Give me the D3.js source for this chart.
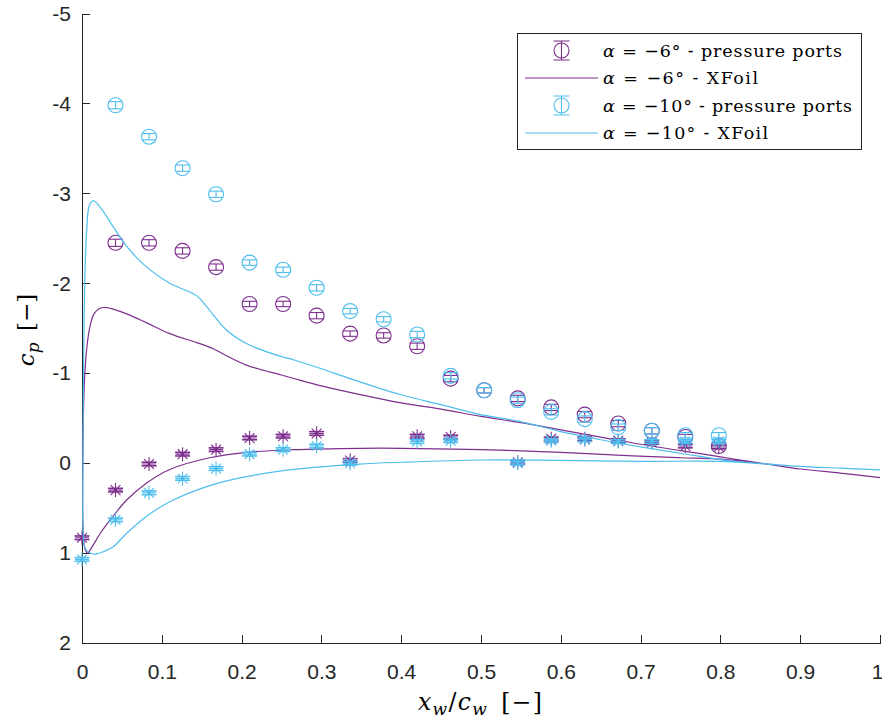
<!DOCTYPE html>
<html lang="en">
<head>
<meta charset="UTF-8">
<title>cp distribution</title>
<script src="https://cdn.jsdelivr.net/npm/d3@7"></script>
<style>
    body { margin: 0; background: #fff; }
    .axis path, .axis line { fill: none; stroke: #262626; stroke-width: 1; shape-rendering: crispEdges; }
    .axis text { font-family: "Liberation Sans", Arial, sans-serif; font-size: 21px; fill: #262626; }
    .tex { font-family: "DejaVu Serif", "Liberation Serif", serif; fill: #000; }
</style>
</head>
<body>
<script>
    // tick values
    var xTicks = [0, 0.1, 0.2, 0.3, 0.4, 0.5, 0.6, 0.7, 0.8, 0.9, 1]
    var yTicks = [-5, -4, -3, -2, -1, 0, 1, 2]

    // pressure port positions (suction side / pressure side)
    var xSuction = [0.042, 0.084, 0.126, 0.168, 0.21, 0.252, 0.294, 0.336, 0.378, 0.42, 0.462, 0.504, 0.546, 0.588, 0.63, 0.672, 0.714, 0.756, 0.798]
    var xPressure = [0, 0.042, 0.084, 0.126, 0.168, 0.21, 0.252, 0.294, 0.336, 0.42, 0.462, 0.546, 0.588, 0.63, 0.672, 0.714, 0.756, 0.798]

    // alpha = -6 deg, measured
    var cp6Suction = [-2.45, -2.45, -2.36, -2.18, -1.77, -1.77, -1.64, -1.44, -1.42, -1.30, -0.94, -0.81, -0.72, -0.62, -0.54, -0.44, -0.36, -0.29, -0.19]
    var err6Suction = [0.04, 0.035, 0.035, 0.035, 0.03, 0.03, 0.035, 0.03, 0.03, 0.035, 0.035, 0.03, 0.035, 0.035, 0.035, 0.035, 0.035, 0.03, 0.03]
    var cp6Pressure = [0.83, 0.30, 0.01, -0.10, -0.15, -0.28, -0.30, -0.33, -0.03, -0.30, -0.29, -0.01, -0.27, -0.27, -0.25, -0.23, -0.19, -0.18]
    var err6Pressure = [0.02, 0.02, 0.02, 0.02, 0.02, 0.02, 0.02, 0.02, 0.02, 0.02, 0.02, 0.02, 0.02, 0.02, 0.02, 0.02, 0.02, 0.02]

    // alpha = -10 deg, measured
    var cp10Suction = [-3.98, -3.63, -3.28, -2.99, -2.23, -2.15, -1.95, -1.69, -1.60, -1.43, -0.97, -0.81, -0.70, -0.57, -0.49, -0.40, -0.36, -0.31, -0.31]
    var err10Suction = [0.04, 0.035, 0.035, 0.035, 0.03, 0.03, 0.035, 0.03, 0.03, 0.035, 0.035, 0.03, 0.035, 0.035, 0.035, 0.035, 0.035, 0.03, 0.03]
    var cp10Pressure = [1.07, 0.63, 0.33, 0.17, 0.06, -0.10, -0.15, -0.19, 0.00, -0.24, -0.25, 0.00, -0.25, -0.26, -0.24, -0.24, -0.24, -0.24]
    var err10Pressure = [0.02, 0.02, 0.02, 0.02, 0.02, 0.02, 0.02, 0.02, 0.02, 0.02, 0.02, 0.02, 0.02, 0.02, 0.02, 0.02, 0.02, 0.02]

    // XFoil curves [x, cp], trailing edge -> leading edge -> trailing edge
    var xfoil6 = [[1.0, 0.16], [0.95, 0.11], [0.9, 0.065], [0.85, 0.0], [0.8, -0.07], [0.75, -0.14], [0.7, -0.21],
        [0.65, -0.29], [0.6, -0.37], [0.55, -0.45], [0.5, -0.52], [0.45, -0.6], [0.4, -0.67], [0.35, -0.76],
        [0.3, -0.86], [0.27, -0.93], [0.25, -0.98], [0.206, -1.09], [0.18, -1.2], [0.165, -1.27], [0.144, -1.34],
        [0.11, -1.44], [0.081, -1.56], [0.056, -1.66], [0.04, -1.71], [0.031, -1.73], [0.022, -1.72], [0.015, -1.66],
        [0.01, -1.52], [0.006, -1.28], [0.003, -0.9], [0.0015, -0.4], [0.0008, 0.2], [0.001, 0.6], [0.002, 0.85],
        [0.004, 0.96], [0.007, 1.0], [0.012, 0.94], [0.023, 0.78], [0.039, 0.59], [0.056, 0.41], [0.081, 0.22],
        [0.11, 0.07], [0.16, -0.06], [0.206, -0.12], [0.265, -0.15], [0.35, -0.165], [0.4, -0.165], [0.5, -0.15],
        [0.6, -0.12], [0.69, -0.08], [0.75, -0.06], [0.8, -0.045], [0.85, 0.0], [0.9, 0.065], [0.95, 0.11], [1.0, 0.16]]

    var xfoil10 = [[1.0, 0.075], [0.95, 0.055], [0.9, 0.035], [0.85, 0.005], [0.8, -0.04], [0.75, -0.11], [0.7, -0.18],
        [0.65, -0.26], [0.6, -0.35], [0.574, -0.41], [0.545, -0.47], [0.5, -0.54], [0.45, -0.65], [0.4, -0.76],
        [0.336, -0.94], [0.3, -1.05], [0.265, -1.15], [0.248, -1.19], [0.206, -1.33], [0.181, -1.48], [0.158, -1.72],
        [0.144, -1.86], [0.11, -2.0], [0.081, -2.18], [0.056, -2.41], [0.039, -2.63], [0.025, -2.82], [0.014, -2.92],
        [0.009, -2.86], [0.006, -2.6], [0.004, -2.2], [0.0025, -1.5], [0.0015, -0.5], [0.001, 0.3], [0.0015, 0.8],
        [0.004, 0.95], [0.01, 1.0], [0.018, 1.01], [0.028, 0.98], [0.039, 0.93], [0.056, 0.78], [0.081, 0.59],
        [0.11, 0.43], [0.16, 0.25], [0.206, 0.15], [0.265, 0.07], [0.348, 0.01], [0.4, -0.01], [0.5, -0.035],
        [0.6, -0.03], [0.7, -0.02], [0.8, -0.02], [0.85, 0.005], [0.9, 0.035], [0.95, 0.055], [1.0, 0.075]]

    var purple = "#7E2F8E"
    var cyan = "#4DBEEE"

    var width = 882, height = 722

    var svg = d3.select("body").append("svg")
        .attr("width", width)
        .attr("height", height)

    var x = d3.scaleLinear().domain([0, 1]).range([82, 880])
    var y = d3.scaleLinear().domain([-5, 2]).range([13.5, 643])

    // axes (ticks point inward, no box)
    var xAxisG = svg.append("g")
        .attr("class", "axis")
        .attr("transform", "translate(0,643)")
        .call(d3.axisBottom(x).tickValues(xTicks).tickFormat(function(d) { return String(d) })
            .tickSizeInner(-8).tickSizeOuter(0).tickPadding(21))
    // last label sits on the window edge
    xAxisG.selectAll(".tick text").filter(function(d) { return d === 1 }).attr("dx", -3)

    svg.append("g")
        .attr("class", "axis")
        .attr("transform", "translate(82,0)")
        .call(d3.axisLeft(y).tickValues(yTicks).tickFormat(function(d) { return String(d) })
            .tickSizeInner(-8).tickSizeOuter(0).tickPadding(11))

    var line = d3.line()
        .x(function(d) { return x(d[0]) })
        .y(function(d) { return y(d[1]) })
        .curve(d3.curveCatmullRom.alpha(0.5))

    function zip(xs, ys, es) {
        return xs.map(function(v, i) { return { x: v, cp: ys[i], e: es[i] } })
    }

    function errorBars(g, data, color, cap, sw) {
        var eb = g.selectAll(null).data(data).enter().append("g")
            .attr("stroke", color).attr("stroke-width", sw).attr("fill", "none")
        eb.append("line")
            .attr("x1", function(d) { return x(d.x) }).attr("x2", function(d) { return x(d.x) })
            .attr("y1", function(d) { return y(d.cp - d.e) }).attr("y2", function(d) { return y(d.cp + d.e) })
        eb.append("line")
            .attr("x1", function(d) { return x(d.x) - cap }).attr("x2", function(d) { return x(d.x) + cap })
            .attr("y1", function(d) { return y(d.cp - d.e) }).attr("y2", function(d) { return y(d.cp - d.e) })
        eb.append("line")
            .attr("x1", function(d) { return x(d.x) - cap }).attr("x2", function(d) { return x(d.x) + cap })
            .attr("y1", function(d) { return y(d.cp + d.e) }).attr("y2", function(d) { return y(d.cp + d.e) })
    }

    function circles(g, data, color) {
        g.selectAll(null).data(data).enter().append("circle")
            .attr("cx", function(d) { return x(d.x) })
            .attr("cy", function(d) { return y(d.cp) })
            .attr("r", 7.5)
            .attr("fill", "none").attr("stroke", color).attr("stroke-width", 1.1)
    }

    function asterisks(g, data, color) {
        var a = 7, b = 4.9
        g.selectAll(null).data(data).enter().append("path")
            .attr("transform", function(d) { return "translate(" + x(d.x) + "," + y(d.cp) + ")" })
            .attr("d", "M" + -a + ",0H" + a + "M0," + -a + "V" + a +
                "M" + -b + "," + -b + "L" + b + "," + b + "M" + -b + "," + b + "L" + b + "," + -b)
            .attr("fill", "none").attr("stroke", color).attr("stroke-width", 1.1)
    }

    function series(cpS, errS, cpP, errP, xf, color) {
        var g = svg.append("g")
        var s = zip(xSuction, cpS, errS)
        var p = zip(xPressure, cpP, errP)
        errorBars(g, s, color, 7, 1.1)
        circles(g, s, color)
        errorBars(g, p, color, 7.5, 1.6)
        asterisks(g, p, color)
        g.append("path").datum(xf)
            .attr("d", line)
            .attr("fill", "none").attr("stroke", color).attr("stroke-width", 1.2)
    }

    series(cp6Suction, err6Suction, cp6Pressure, err6Pressure, xfoil6, purple)
    series(cp10Suction, err10Suction, cp10Pressure, err10Pressure, xfoil10, cyan)

    // axis labels
    var xl = svg.append("text").attr("class", "tex")
        .attr("x", 480).attr("y", 710).attr("text-anchor", "middle").attr("font-size", 23.5)
        .attr("textLength", 124).attr("lengthAdjust", "spacing")
    xl.append("tspan").attr("font-style", "italic").text("x")
    xl.append("tspan").attr("font-style", "italic").attr("font-size", 17).attr("dy", 5).text("w")
    xl.append("tspan").attr("dy", -5).text("/")
    xl.append("tspan").attr("font-style", "italic").text("c")
    xl.append("tspan").attr("font-style", "italic").attr("font-size", 17).attr("dy", 5).text("w")
    xl.append("tspan").attr("dy", -5).text("\u2002[\u2212]")

    var yl = svg.append("text").attr("class", "tex")
        .attr("transform", "translate(34,330) rotate(-90)")
        .attr("text-anchor", "middle").attr("font-size", 23)
    yl.append("tspan").attr("font-style", "italic").text("c")
    yl.append("tspan").attr("font-style", "italic").attr("font-size", 17).attr("dy", 5).text("p")
    yl.append("tspan").attr("dy", -5).text("\u2002[\u2212]")

    // legend
    var legendAngles = ["\u22126\u00b0", "\u22126\u00b0", "\u221210\u00b0", "\u221210\u00b0"]
    var legendSources = ["pressure ports", "XFoil", "pressure ports", "XFoil"]
    var legendColors = [purple, purple, cyan, cyan]
    var legendKinds = ["marker", "line", "marker", "line"]
    var legendWidths = [239, 155, 249, 165]

    var lg = svg.append("g")
    lg.append("rect").attr("x", 517.5).attr("y", 33.5).attr("width", 344).attr("height", 116)
        .attr("fill", "#fff").attr("stroke", "#262626").attr("stroke-width", 1)

    legendAngles.forEach(function(t, i) {
        var cy = 50.5 + i * 27.5
        var c = legendColors[i]
        if (legendKinds[i] === "line") {
            lg.append("line").attr("x1", 525).attr("x2", 598).attr("y1", cy).attr("y2", cy)
                .attr("stroke", c).attr("stroke-width", 1.2)
        } else {
            lg.append("circle").attr("cx", 561.5).attr("cy", cy).attr("r", 7.5)
                .attr("fill", "none").attr("stroke", c).attr("stroke-width", 1.1)
            lg.append("path").attr("d", "M553.5," + (cy - 9.5) + "H569.5M561.5," + (cy - 9.5) + "V" + (cy + 9.5) + "M553.5," + (cy + 9.5) + "H569.5")
                .attr("fill", "none").attr("stroke", c).attr("stroke-width", 1.1)
        }
        var tx = lg.append("text").attr("class", "tex").attr("x", 603).attr("y", cy + 6).attr("font-size", 17.5)
            .attr("textLength", legendWidths[i]).attr("lengthAdjust", "spacing")
        tx.append("tspan").attr("font-style", "italic").text("\u03b1")
        tx.append("tspan").text(" = " + t + " ")
        tx.append("tspan").attr("font-family", "Liberation Sans, Arial, sans-serif").text("-")
        tx.append("tspan").text(" " + legendSources[i])
    })
</script>
</body>
</html>
